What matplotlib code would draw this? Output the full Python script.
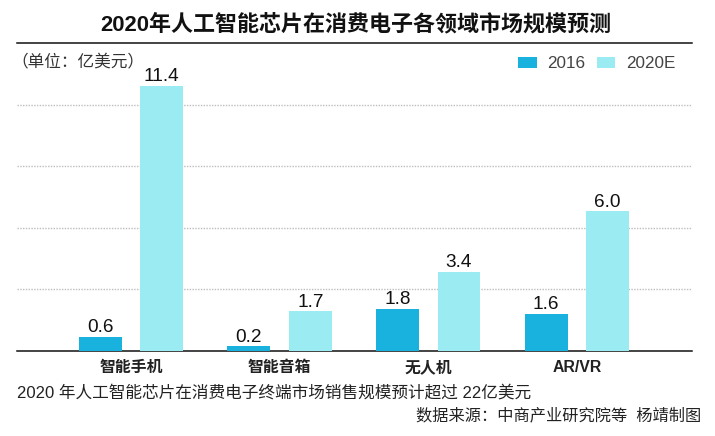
import matplotlib
matplotlib.use("Agg")
import matplotlib.pyplot as plt
import numpy as np

plt.rcParams['font.family'] = ['Liberation Sans', 'Noto Sans CJK SC', 'DejaVu Sans']

categories = ["智能手机", "智能音箱", "无人机", "AR/VR"]
series_2016 = [0.6, 0.2, 1.8, 1.6]
series_2020e = [11.4, 1.7, 3.4, 6.0]
grid_values = [2.65, 5.29, 7.94, 10.58]
series_names = ["2016", "2020E"]

W, H = 715, 436
fig = plt.figure(figsize=(W/100, H/100), dpi=100, facecolor="white")
ax = fig.add_axes([17.3/W, 1-351/H, (692-17.3)/W, (351-43.3)/H])

x = np.arange(len(categories))
bw, off = 0.289, 0.207
c1, c2 = "#19B2DE", "#9AECF2"
ax.bar(x-off, series_2016, bw, color=c1, label=series_names[0], zorder=3)
ax.bar(x+off, series_2020e, bw, color=c2, label=series_names[1], zorder=3)

ax.set_xlim(-0.765, 3.775)
ax.set_ylim(0, 13.23)
ax.set_yticks(grid_values)
ax.tick_params(axis='y', length=0, labelleft=False)
ax.set_xticks(x)
ax.set_xticklabels(categories, fontsize=11.4, fontweight='bold', color="#222222")
ax.tick_params(axis='x', length=0, pad=6.5)
ax.grid(axis='y', color="#BDBDBD", lw=1, ls=(0, (1, 1)), zorder=1)
ax.grid(axis='x', visible=False)
for s in ['left', 'right']:
    ax.spines[s].set_visible(False)
for s in ['top', 'bottom']:
    ax.spines[s].set_linewidth(1.1)
    ax.spines[s].set_color("#111111")

for xs, vals in ((x-off, series_2016), (x+off, series_2020e)):
    for xi, v in zip(xs, vals):
        ax.annotate(f"{v:.1f}", (xi, v), xytext=(0, 0.5), textcoords='offset points', ha='center', va='bottom',
                    fontsize=13.7, color="#111111", zorder=4)

fig.text(355.5/W, 1-25/H, "2020年人工智能芯片在消费电子各领域市场规模预测", ha='center', va='center',
         fontsize=15.85, fontweight='bold', color="#111111")
fig.text(11/W, 1-62/H, "（单位：亿美元）", ha='left', va='center', fontsize=12, color="#333333")

ax.legend(loc='center right', bbox_to_anchor=(0.975, 0.933), ncol=2, frameon=False, fontsize=12.3,
          borderpad=0, borderaxespad=0, handlelength=1.08, handleheight=0.59,
          columnspacing=0.65, handletextpad=0.62, labelcolor="#444444")

fig.text(17/W, 1-393/H, "2020 年人工智能芯片在消费电子终端市场销售规模预计超过 22亿美元", ha='left', va='center',
         fontsize=12, color="#222222")
fig.text(701/W, 1-415/H, "数据来源：中商产业研究院等  杨靖制图", ha='right', va='center', fontsize=11.7, color="#222222")

fig.savefig("out.png", dpi=100, facecolor="white")
